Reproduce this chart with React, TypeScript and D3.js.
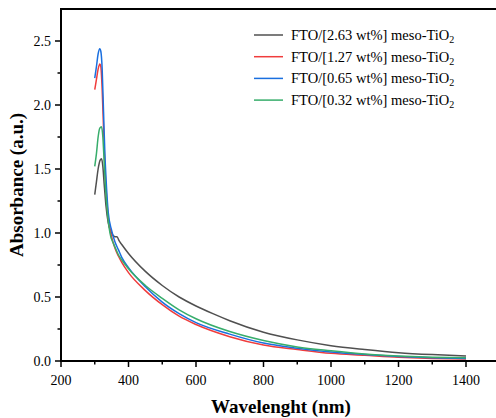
import React from "react";
import * as d3 from "d3";

const seriesNames = ["2.63", "1.27", "0.65", "0.32"];
const seriesColors = ["#505050", "#F03C3C", "#1A6FDF", "#37AD6B"];

const blackW = [300, 305, 310, 316, 320, 324, 328, 333, 340, 350, 360, 366, 372, 380, 400, 450, 500, 550, 600, 650, 700, 800, 900, 1000, 1100, 1200, 1300, 1400];
const blackV = [1.30, 1.40, 1.50, 1.57, 1.58, 1.52, 1.38, 1.22, 1.08, 1.00, 0.97, 0.97, 0.94, 0.91, 0.84, 0.70, 0.59, 0.50, 0.43, 0.37, 0.315, 0.225, 0.165, 0.12, 0.09, 0.065, 0.05, 0.04];

const redW = [300, 305, 310, 315, 318, 322, 326, 330, 335, 340, 350, 360, 370, 380, 400, 450, 500, 550, 600, 700, 800, 900, 1000, 1100, 1200, 1300, 1400];
const redV = [2.12, 2.20, 2.28, 2.32, 2.30, 2.12, 1.82, 1.52, 1.28, 1.12, 0.97, 0.88, 0.82, 0.77, 0.69, 0.55, 0.44, 0.35, 0.285, 0.19, 0.125, 0.09, 0.06, 0.045, 0.03, 0.02, 0.015];

const blueW = [300, 305, 310, 315, 318, 322, 326, 330, 335, 340, 350, 360, 370, 380, 400, 450, 500, 550, 600, 700, 800, 900, 1000, 1100, 1200, 1300, 1400];
const blueV = [2.21, 2.30, 2.40, 2.44, 2.42, 2.28, 1.95, 1.62, 1.35, 1.16, 1.02, 0.93, 0.87, 0.81, 0.73, 0.58, 0.46, 0.37, 0.30, 0.21, 0.14, 0.10, 0.07, 0.05, 0.035, 0.025, 0.02];

const greenW = [300, 305, 310, 315, 320, 324, 328, 332, 338, 345, 355, 360, 370, 380, 400, 450, 500, 550, 600, 700, 800, 900, 1000, 1100, 1200, 1300, 1400];
const greenV = [1.52, 1.62, 1.75, 1.82, 1.83, 1.75, 1.55, 1.35, 1.15, 1.00, 0.92, 0.89, 0.83, 0.79, 0.72, 0.59, 0.49, 0.40, 0.33, 0.23, 0.16, 0.11, 0.08, 0.055, 0.04, 0.03, 0.025];

const xTicks = [200, 400, 600, 800, 1000, 1200, 1400];
const xMinor = [300, 500, 700, 900, 1100, 1300];
const yTicks = [0, 0.5, 1.0, 1.5, 2.0, 2.5];
const yMinor = [0.25, 0.75, 1.25, 1.75, 2.25];

const W = 496;
const H = 418;
const left = 61;
const top = 9;
const bottom = 361;

export default function App() {
  const x = d3.scaleLinear().domain([200, 1500]).range([left, left + 1300 * 0.3375]);
  const y = d3.scaleLinear().domain([0, 2.75]).range([bottom, top]);
  const line = d3
    .line<[number, number]>()
    .x((d) => x(d[0]))
    .y((d) => y(d[1]))
    .curve(d3.curveMonotoneX);

  const series = [
    blackW.map((w, i) => [w, blackV[i]] as [number, number]),
    redW.map((w, i) => [w, redV[i]] as [number, number]),
    blueW.map((w, i) => [w, blueV[i]] as [number, number]),
    greenW.map((w, i) => [w, greenV[i]] as [number, number]),
  ];

  const font = "'Liberation Serif', 'Times New Roman', serif";

  return (
    <svg
      width={W}
      height={H}
      style={{ position: "absolute", left: 0, top: 0, background: "#fff" }}
      fontFamily={font}
    >
      <rect x={0} y={0} width={W} height={H} fill="#fff" />
      {series.map((s, i) => (
        <path key={i} d={line(s) || ""} fill="none" stroke={seriesColors[i]} strokeWidth={1.5} />
      ))}
      {/* frame */}
      <line x1={left} x2={W} y1={top} y2={top} stroke="#000" strokeWidth={2} />
      <line x1={left} x2={left} y1={top - 1} y2={bottom + 1} stroke="#000" strokeWidth={2} />
      <line x1={left - 1} x2={W} y1={bottom} y2={bottom} stroke="#000" strokeWidth={2} />
      {/* x ticks */}
      {xTicks.map((t) => (
        <g key={t}>
          <line x1={x(t)} x2={x(t)} y1={bottom} y2={bottom + 6} stroke="#000" strokeWidth={1.5} />
          <text x={x(t)} y={bottom + 24} textAnchor="middle" fontSize={14}>
            {t}
          </text>
        </g>
      ))}
      {xMinor.map((t) => (
        <line key={t} x1={x(t)} x2={x(t)} y1={bottom} y2={bottom + 3.5} stroke="#000" strokeWidth={1.5} />
      ))}
      {/* y ticks */}
      {yTicks.map((t) => (
        <g key={t}>
          <line x1={left - 6} x2={left} y1={y(t)} y2={y(t)} stroke="#000" strokeWidth={1.5} />
          <text x={left - 10} y={y(t) + 4.5} textAnchor="end" fontSize={14}>
            {t.toFixed(1)}
          </text>
        </g>
      ))}
      {yMinor.map((t) => (
        <line key={t} x1={left - 3.5} x2={left} y1={y(t)} y2={y(t)} stroke="#000" strokeWidth={1.5} />
      ))}
      {/* titles */}
      <text
        transform={`translate(23,185) rotate(-90)`}
        textAnchor="middle"
        fontSize={19}
        fontWeight="bold"
      >
        Absorbance (a.u.)
      </text>
      <text x={281} y={413} textAnchor="middle" fontSize={19} fontWeight="bold">
        Wavelenght (nm)
      </text>
      {/* legend */}
      {seriesNames.map((n, i) => {
        const ly = 35 + i * 21.7;
        return (
          <g key={n}>
            <line x1={254} x2={283} y1={ly} y2={ly} stroke={seriesColors[i]} strokeWidth={1.5} />
            <text x={291} y={ly + 5} fontSize={14.5}>
              {`FTO/[${n} wt%] meso-TiO`}
              <tspan fontSize={10} dy={3}>
                2
              </tspan>
            </text>
          </g>
        );
      })}
    </svg>
  );
}
